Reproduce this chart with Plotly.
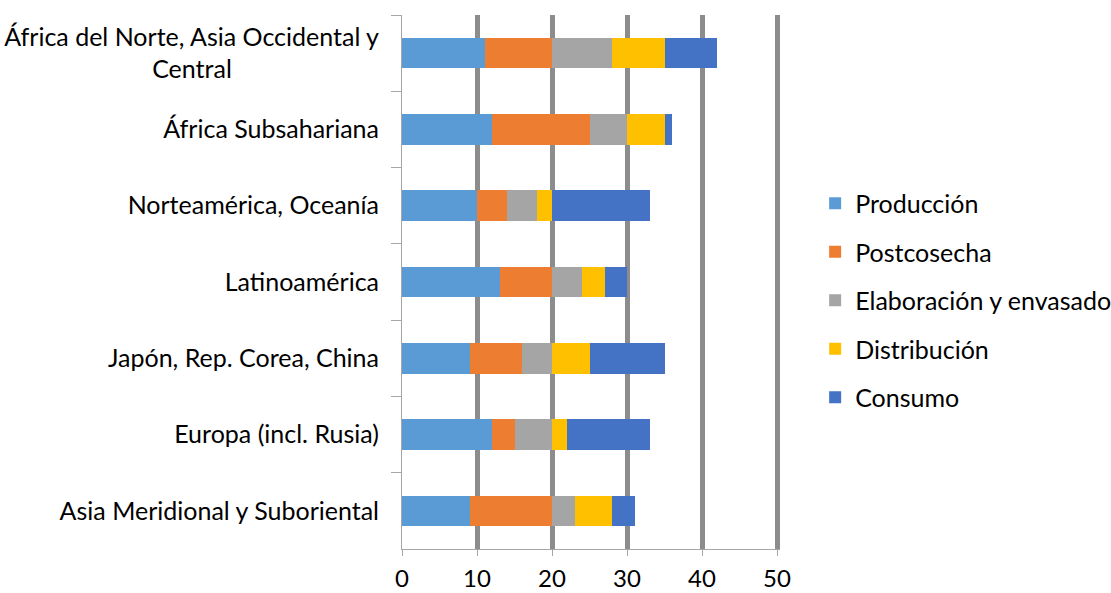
import plotly.graph_objects as go

# regions, top to bottom as in the chart
regiones = [
    "África del Norte, Asia Occidental y<br>Central" + "\u00a0" * 23,
    "África Subsahariana",
    "Norteamérica, Oceanía",
    "Latinoamérica",
    "Japón, Rep. Corea, China",
    "Europa (incl. Rusia)",
    "Asia Meridional y Suboriental",
]

produccion = [11, 12, 10, 13, 9, 12, 9]
postcosecha = [9, 13, 4, 7, 7, 3, 11]
elaboracion = [8, 5, 4, 4, 4, 5, 3]
distribucion = [7, 5, 2, 3, 5, 2, 5]
consumo = [7, 1, 13, 3, 10, 11, 3]

series = [
    ("Producción", produccion, "#5B9BD5"),
    ("Postcosecha", postcosecha, "#ED7D31"),
    ("Elaboración y envasado", elaboracion, "#A5A5A5"),
    ("Distribución", distribucion, "#FFC000"),
    ("Consumo", consumo, "#4472C4"),
]

font_name = "Lato, Open Sans, sans-serif"

fig = go.Figure()
for name, vals, color in series:
    fig.add_trace(go.Bar(
        y=regiones, x=vals, name=name, orientation="h",
        marker=dict(color=color, line=dict(width=0)),
        legendgroup=name,
    ))

fig.update_layout(
    barmode="stack",
    bargap=0.6,
    width=1111, height=593,
    margin=dict(l=402, r=331, t=15, b=44, autoexpand=False),
    plot_bgcolor="white",
    paper_bgcolor="white",
    font=dict(family=font_name, size=25, color="#000000"),
    legend=dict(
        x=1.093, y=0.69, xanchor="left", yanchor="top",
        traceorder="grouped", tracegroupgap=13,
        font=dict(size=25), itemwidth=30,
    ),
)

# range a bit past 50 so plotly still draws the last grid line
fig.update_xaxes(
    range=[0, 50.4], tickvals=[0, 10, 20, 30, 40, 50],
    showgrid=True, gridcolor="#8C8C8C", gridwidth=5,
    zeroline=False,
    showline=True, linecolor="#A6A6A6", linewidth=1,
    ticks="outside", ticklen=6, tickcolor="#A6A6A6",
    tickfont=dict(size=24), ticklabelstandoff=2,
)
fig.update_yaxes(
    autorange="reversed",
    showline=True, linecolor="#A6A6A6", linewidth=1,
    ticks="outside", ticklen=10, tickcolor="#A6A6A6",
    tickson="boundaries", showgrid=False,
    ticklabelstandoff=17,
)

# drop the default page margin so the figure sits at the window corner
fig.write_html("out.html", config={"displayModeBar": False},
               post_script="document.body.style.margin='0';")
